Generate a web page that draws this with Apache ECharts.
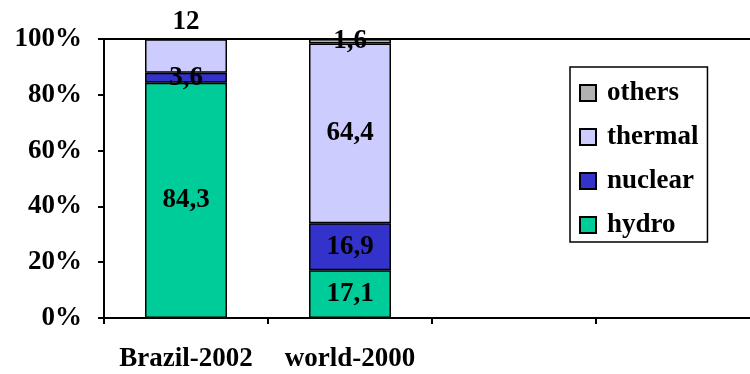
<!DOCTYPE html>
<html>
<head>
<meta charset="utf-8">
<script src="https://cdn.jsdelivr.net/npm/echarts@6/dist/echarts.min.js"></script>
<style>
  html, body { margin: 0; padding: 0; background: #fff; }
  #chart { width: 750px; height: 374px; }
</style>
</head>
<body>
<div id="chart"></div>
<script>
// Electricity generation mix, share of total (%)
const categories = ['Brazil-2002', 'world-2000', '', ''];
const hydro   = [84.3, 17.1];
const nuclear = [3.6, 16.9];
const thermal = [12, 64.4];
const others  = ['-', 1.6];
const yTicks  = [0, 20, 40, 60, 80, 100];

const FONT = 'Liberation Serif';
const SIZE = 27;

const fmt = p => String(p.value).replace('.', ',');

function makeSeries(name, values, color, labelOverrides) {
  return {
    name: name,
    type: 'bar',
    stack: 'share',
    barWidth: '50%',
    itemStyle: { color: color, borderColor: '#000', borderWidth: 1.5 },
    label: {
      show: true,
      position: 'inside',
      formatter: fmt,
      color: '#000',
      fontFamily: FONT,
      fontWeight: 'bold',
      fontSize: SIZE
    },
    data: values.map((v, i) => {
      const item = { value: v };
      if (labelOverrides && labelOverrides[i]) item.label = labelOverrides[i];
      return item;
    })
  };
}

const chart = echarts.init(document.getElementById('chart'), null, { renderer: 'canvas' });
chart.setOption({
  animation: false,
  backgroundColor: '#fff',
  grid: {
    left: 104, top: 39, width: 656, height: 279,
    outerBoundsMode: 'none',
    containLabel: false,
    show: true, borderColor: '#000', borderWidth: 2, backgroundColor: 'transparent'
  },
  legend: {
    orient: 'vertical',
    left: 570, top: 67,
    data: ['others', 'thermal', 'nuclear', 'hydro'],
    icon: 'rect',
    itemWidth: 16, itemHeight: 16,
    itemGap: 16,
    padding: [12, 9, 3, 9],
    borderColor: '#000', borderWidth: 1.5,
    backgroundColor: '#fff',
    textStyle: {
      fontFamily: FONT, fontWeight: 'bold', fontSize: SIZE, color: '#000',
      lineHeight: 28, padding: [0, 0, 0, 6]
    }
  },
  xAxis: {
    type: 'category',
    data: categories,
    axisLine: { lineStyle: { color: '#000', width: 2 } },
    axisTick: { show: true, length: 6, lineStyle: { color: '#000', width: 2 } },
    axisLabel: {
      color: '#000', fontFamily: FONT, fontWeight: 'bold', fontSize: SIZE, margin: 28,
      interval: 0
    }
  },
  yAxis: {
    type: 'value',
    min: yTicks[0], max: yTicks[yTicks.length - 1], interval: 20,
    axisLine: { show: true, lineStyle: { color: '#000', width: 2 } },
    axisTick: { show: true, length: 6, lineStyle: { color: '#000', width: 2 } },
    splitLine: { show: false },
    axisLabel: {
      formatter: '{value}%',
      color: '#000', fontFamily: FONT, fontWeight: 'bold', fontSize: SIZE, margin: 22
    }
  },
  series: [
    makeSeries('hydro', hydro, '#00CC99'),
    makeSeries('nuclear', nuclear, '#3333CC'),
    makeSeries('thermal', thermal, '#CCCCFF', [{ position: 'top', distance: 4 }]),
    makeSeries('others', others, '#B2B2B2')
  ]
});
</script>
</body>
</html>
